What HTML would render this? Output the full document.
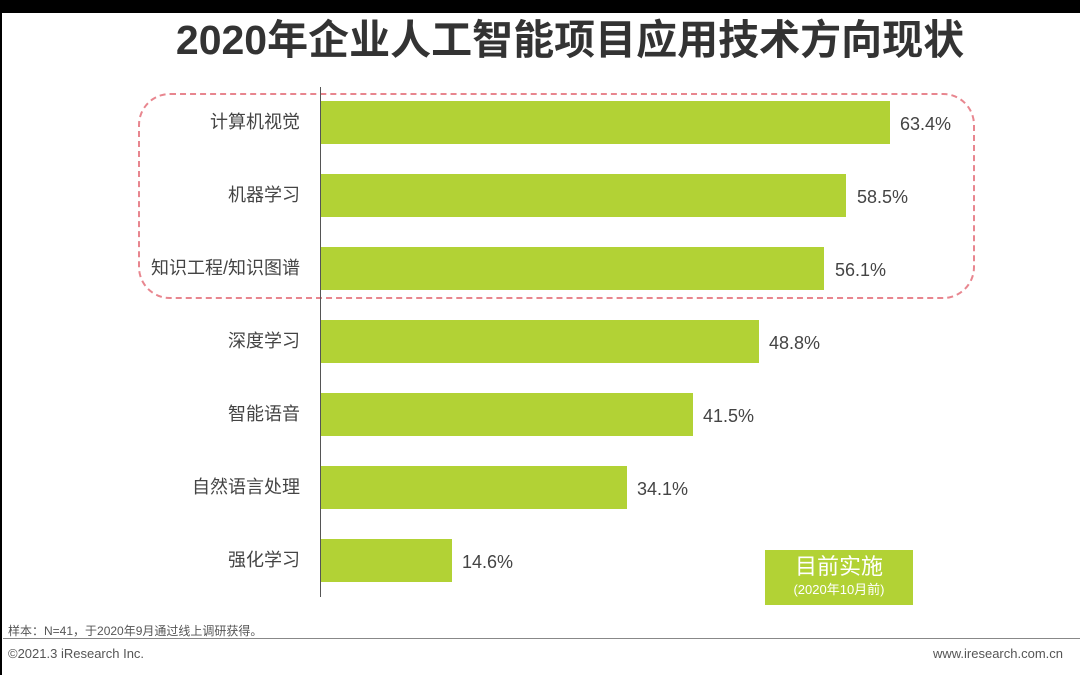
<!DOCTYPE html>
<html><head><meta charset="utf-8"><style>
body{margin:0;width:1080px;height:675px;background:#fff;position:relative;overflow:hidden;font-family:"Liberation Sans","Noto Sans CJK SC",sans-serif;}
.a{position:absolute}
.lbl{position:absolute;right:780px;font-size:18px;color:#444;text-align:right;white-space:nowrap;line-height:20px}
.bar{position:absolute;left:321px;height:43px;background:#b2d235}
.val{position:absolute;font-size:18px;color:#444;line-height:20px}
</style></head><body>
<div class="a" style="left:0;top:0;width:1080px;height:13px;background:#000"></div>
<div class="a" style="left:0;top:0;width:2px;height:675px;background:#000"></div>
<div class="a" style="left:0;top:12px;width:1140px;text-align:center;font-size:41px;font-weight:bold;color:#333;line-height:56px">2020年企业人工智能项目应用技术方向现状</div>
<div class="a" style="left:138px;top:93px;width:833px;height:202px;border:2px dashed #e8868f;border-radius:32px"></div>
<div class="a" style="left:320px;top:87px;width:1px;height:510px;background:#555"></div>

<div class="lbl" style="top:112px">计算机视觉</div>
<div class="bar" style="top:101px;width:569px"></div><div class="val" style="left:900px;top:114px">63.4%</div>
<div class="lbl" style="top:185px">机器学习</div>
<div class="bar" style="top:174px;width:525px"></div><div class="val" style="left:857px;top:187px">58.5%</div>
<div class="lbl" style="top:258px">知识工程/知识图谱</div>
<div class="bar" style="top:247px;width:503px"></div><div class="val" style="left:835px;top:260px">56.1%</div>
<div class="lbl" style="top:331px">深度学习</div>
<div class="bar" style="top:320px;width:438px"></div><div class="val" style="left:769px;top:333px">48.8%</div>
<div class="lbl" style="top:404px">智能语音</div>
<div class="bar" style="top:393px;width:372px"></div><div class="val" style="left:703px;top:406px">41.5%</div>
<div class="lbl" style="top:477px">自然语言处理</div>
<div class="bar" style="top:466px;width:306px"></div><div class="val" style="left:637px;top:479px">34.1%</div>
<div class="lbl" style="top:550px">强化学习</div>
<div class="bar" style="top:539px;width:131px"></div><div class="val" style="left:462px;top:552px">14.6%</div>

<div class="a" style="left:765px;top:550px;width:148px;height:55px;background:#b2d235;color:#fff;text-align:center">
<div style="font-size:22px;line-height:30px;margin-top:2px">目前实施</div>
<div style="font-size:13px;line-height:16px">(2020年10月前)</div></div>

<div class="a" style="left:8px;top:622px;font-size:12px;color:#555">样本：N=41，于2020年9月通过线上调研获得。</div>
<div class="a" style="left:3px;top:638px;width:1077px;height:1px;background:#888"></div>
<div class="a" style="left:8px;top:646px;font-size:13px;color:#555">©2021.3 iResearch Inc.</div>
<div class="a" style="right:17px;top:646px;font-size:13px;color:#555">www.iresearch.com.cn</div>
</body></html>
